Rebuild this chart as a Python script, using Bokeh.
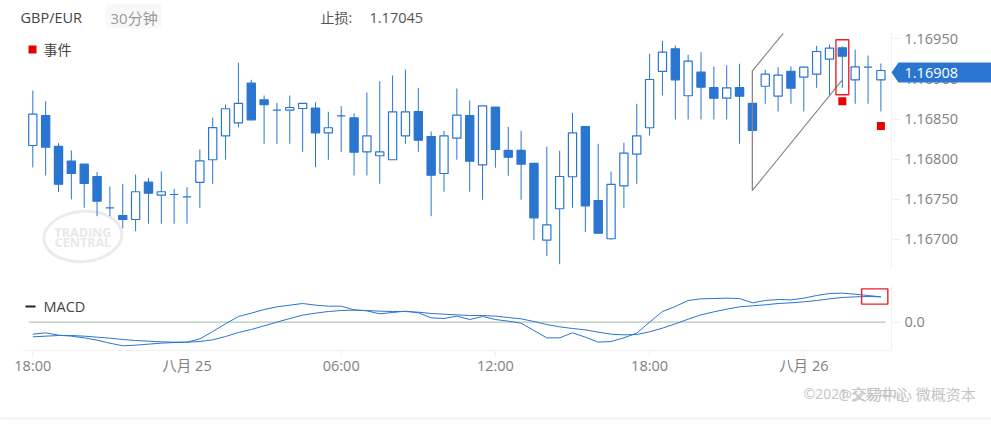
from bokeh.embed import file_html
from bokeh.layouts import column
from bokeh.models import (BoxAnnotation, FixedTicker, Label, NumeralTickFormatter,
                          PolyAnnotation, Range1d)
from bokeh.plotting import figure
from bokeh.resources import INLINE

# 30 minute candles
opens = [1.168172, 1.168546, 1.168160, 1.167976, 1.167939, 1.167785, 1.167393, 1.167299, 1.167249, 1.167714,
         1.167552, 1.167561, 1.167530, 1.167711, 1.167994, 1.168293, 1.168455, 1.168949, 1.168742, 1.168612,
         1.168612, 1.168633, 1.168637, 1.168330, 1.168542, 1.168517, 1.168093, 1.168044, 1.167994, 1.168293,
         1.168596, 1.168284, 1.167823, 1.168263, 1.168546, 1.167931, 1.168650, 1.168110, 1.168110, 1.167948,
         1.166991, 1.167383, 1.167782, 1.168409, 1.167486, 1.167009, 1.167669, 1.168064, 1.168393, 1.169095,
         1.169378, 1.168792, 1.169086, 1.168895, 1.168762, 1.168895, 1.168696, 1.168911, 1.168787, 1.169098,
         1.169024, 1.169061, 1.169248, 1.169390, 1.168991, 1.169148, 1.168991]
highs = [1.168858, 1.168724, 1.168201, 1.168110, 1.167939, 1.167844, 1.167661, 1.167694, 1.167810, 1.167769,
         1.167848, 1.167632, 1.167652, 1.168122, 1.168521, 1.168683, 1.169203, 1.168991, 1.168795, 1.168704,
         1.168795, 1.168696, 1.168712, 1.168592, 1.168662, 1.168575, 1.168833, 1.168974, 1.169045, 1.169120,
         1.168891, 1.168347, 1.168355, 1.168883, 1.168733, 1.168667, 1.168650, 1.168405, 1.168355, 1.167948,
         1.168156, 1.168106, 1.168580, 1.168409, 1.168193, 1.167848, 1.168206, 1.168692, 1.169315, 1.169477,
         1.169419, 1.169303, 1.169335, 1.169157, 1.169173, 1.169191, 1.169103, 1.169116, 1.169148, 1.169157,
         1.169157, 1.169415, 1.169431, 1.169406, 1.169365, 1.169294, 1.169194]
lows = [1.167898, 1.167798, 1.167590, 1.167499, 1.167395, 1.167290, 1.167290, 1.167137, 1.167103, 1.167196,
        1.167196, 1.167196, 1.167196, 1.167395, 1.167694, 1.167994, 1.168396, 1.168492, 1.168193, 1.168193,
        1.168193, 1.168093, 1.167901, 1.167994, 1.168093, 1.167798, 1.167798, 1.167694, 1.167994, 1.168193,
        1.168093, 1.167290, 1.167595, 1.167994, 1.167595, 1.167495, 1.167894, 1.167794, 1.167495, 1.166991,
        1.166792, 1.166692, 1.167395, 1.167091, 1.167078, 1.166996, 1.167395, 1.167694, 1.168297, 1.168795,
        1.168496, 1.168496, 1.168496, 1.168496, 1.168496, 1.168193, 1.167611, 1.168692, 1.168596, 1.168692,
        1.168596, 1.168891, 1.168795, 1.168891, 1.168692, 1.168692, 1.168596]
closes = [1.168562, 1.168151, 1.167689, 1.167823, 1.167698, 1.167477, 1.167393, 1.167249, 1.167595, 1.167577,
          1.167595, 1.167561, 1.167530, 1.167981, 1.168396, 1.168630, 1.168696, 1.168492, 1.168680, 1.168612,
          1.168646, 1.168696, 1.168330, 1.168393, 1.168542, 1.168088, 1.168293, 1.168093, 1.168592, 1.168592,
          1.168238, 1.167802, 1.168293, 1.168550, 1.167976, 1.168667, 1.168122, 1.168026, 1.167939, 1.167270,
          1.167183, 1.167785, 1.168330, 1.167420, 1.167078, 1.167686, 1.168076, 1.168293, 1.168995, 1.169335,
          1.168991, 1.169223, 1.168899, 1.168762, 1.168891, 1.168787, 1.168359, 1.169061, 1.169049, 1.168886,
          1.169148, 1.169344, 1.169385, 1.169285, 1.169153, 1.169148, 1.169107]

# MACD panel, two lines
macd = [-36, -32, -39, -42, -47, -54, -63, -71, -69, -66, -63, -61, -60, -50, -28, -5, 17, 27, 38, 46,
        51, 56, 51, 48, 48, 37, 34, 25, 29, 33, 28, 13, 11, 18, 8, 17, 8, 3, -3, -25,
        -47, -47, -32, -45, -60, -58, -47, -33, 0, 32, 47, 65, 70, 71, 72, 71, 58, 65, 68, 67,
        72, 80, 86, 87, 84, 80, 76]
signal = [-44, -42, -40, -40, -42, -45, -48, -52, -55, -57, -59, -60, -60, -58, -53, -43, -31, -22, -11, 0,
          11, 21, 27, 32, 35, 36, 35, 33, 32, 32, 30, 26, 24, 22, 20, 20, 18, 14, 10, 2,
          -7, -14, -19, -23, -30, -36, -38, -37, -29, -18, -5, 9, 22, 31, 39, 46, 49, 52, 56, 58,
          61, 65, 70, 74, 76, 77, 76]

# trend pattern and event markers
pattern_x = [58.4, 56, 56, 63]
pattern_y = [1.16957, 1.169103, 1.167611, 1.168991]
event_x = [63, 66]
event_y = [1.168723, 1.168415]
highlight = (63, 1.16949, 1.168804)
macd_box = (64.5, 66.54, 100, 54)

price_ticks = [1.167, 1.1675, 1.168, 1.1685, 1.169, 1.1695]
time_ticks = [0, 12, 24, 36, 48, 60]
time_labels = ["18:00", "八月 25", "06:00", "12:00", "18:00", "八月 26"]
last_price = 1.16908

BLUE = "#2a75d0"
GREY = "#808080"
FAINT = "#f2f2f2"
FONT = "Open Sans, Noto Sans CJK SC"
idx = list(range(len(opens)))
H1 = 283
H2 = 141
# frames fill the canvas, annotations outside a frame get clipped
x_full = (-2.514, 74.607)
x_axis_at = 66.82
x_bounds = (-0.8, x_axis_at)


def text(fig, x, y, txt, color="#444444", size="14px"):
    fig.add_layout(Label(x=x, y=y, text=txt, x_units="canvas", y_units="canvas",
                         text_color=color, text_font=FONT, text_font_size=size,
                         text_baseline="middle"))


def box(fig, left, right, top, bottom, color, radius=0):
    fig.add_layout(BoxAnnotation(left=left, right=right, top=top, bottom=bottom,
                                 left_units="canvas", right_units="canvas",
                                 top_units="canvas", bottom_units="canvas",
                                 fill_color=color, fill_alpha=1, line_color=None, border_radius=radius))


def style_axis(axis, tick, standoff):
    axis.axis_line_color = FAINT
    axis.major_tick_line_color = FAINT
    axis.major_tick_in = 0
    axis.major_tick_out = tick
    axis.minor_tick_line_color = None
    axis.major_label_text_color = GREY
    axis.major_label_text_font = FONT
    axis.major_label_text_font_size = "14.5px"
    axis.major_label_standoff = standoff


p = figure(width=991, height=H1, output_backend="svg", toolbar_location=None,
           x_range=Range1d(*x_full), y_range=Range1d(1.166451, 1.16998),
           x_axis_location=None, y_axis_location="right",
           min_border_left=0, min_border_right=0, min_border_top=0, min_border_bottom=0)
p.grid.visible = False
p.outline_line_color = None

yaxis = p.yaxis[0]
yaxis.fixed_location = x_axis_at
yaxis.bounds = (1.166622, 1.169577)
yaxis.ticker = FixedTicker(ticks=price_ticks)
yaxis.formatter = NumeralTickFormatter(format="0.00000")
style_axis(yaxis, 9, 4)

# Trading Central watermark
p.ellipse(x=[3.9], y=[1.167037], width=78, height=50, width_units="screen", height_units="screen",
          fill_color=None, line_color="#ebebeb", line_width=3, angle=0.08, level="underlay")
p.add_layout(Label(x=3.9, y=1.167091, text="TRADING", text_align="center", text_baseline="middle",
                   text_color="#e8e8e8", text_font="Open Sans", text_font_size="12.5px", text_font_style="bold"))
p.add_layout(Label(x=3.9, y=1.166966, text="CENTRAL", text_align="center", text_baseline="middle",
                   text_color="#e8e8e8", text_font="Open Sans", text_font_size="12.5px", text_font_style="bold"))

p.segment(idx, highs, idx, lows, line_color=BLUE, line_width=1)
p.vbar(x=idx, width=0.64, bottom=opens, top=closes, line_color=BLUE, line_width=1.2,
       fill_color=["#ffffff" if c >= o else BLUE for o, c in zip(opens, closes)])

p.line(pattern_x, pattern_y, line_color="#888888", line_width=1.2)
p.scatter(event_x, event_y, marker="square", size=8, fill_color="#e60000", line_color=None)
p.quad(left=[highlight[0] - 0.5], right=[highlight[0] + 0.5], top=[highlight[1]], bottom=[highlight[2]],
       fill_color=None, line_color="#e8222c", line_width=1.4)

# header and legend
box(p, 105, 161, 3, 28, "#f8f8f8", radius=4)
text(p, 20, 17, "GBP/EUR", size="14.5px")
text(p, 110, 17, "30分钟", color="#999999", size="15px")
text(p, 320, 17, "止损:", color="#555555")
text(p, 369, 17, "1.17045", color="#555555", size="14.5px")
box(p, 28, 36, 45, 53, "#e60000")
text(p, 43, 49, "事件")

# last price tag
tag_y = 72
p.add_layout(PolyAnnotation(xs=[891, 898, 991, 991, 898],
                            ys=[tag_y, tag_y - 10, tag_y - 10, tag_y + 10, tag_y + 10],
                            xs_units="canvas", ys_units="canvas", fill_color=BLUE, fill_alpha=1, line_color=None))
text(p, 904, tag_y, "%.5f" % last_price, color="#ffffff", size="14.5px")

m = figure(width=991, height=H2, output_backend="svg", toolbar_location=None,
           x_range=Range1d(*x_full), y_range=Range1d(-307, 116),
           y_axis_location="right",
           min_border_left=0, min_border_right=0, min_border_top=0, min_border_bottom=0)
m.grid.visible = False
m.outline_line_color = None

m.line([-0.31, 66.36], [0, 0], line_color="#b4c8b0", line_width=1.2)
m.line(idx, macd, line_color=BLUE, line_width=1)
m.line(idx, signal, line_color=BLUE, line_width=1)
m.quad(left=[macd_box[0]], right=[macd_box[1]], top=[macd_box[2]], bottom=[macd_box[3]],
       fill_color=None, line_color="#e8222c", line_width=1.4)

maxis = m.xaxis[0]
maxis.fixed_location = -86
maxis.bounds = x_bounds
maxis.ticker = FixedTicker(ticks=time_ticks)
maxis.major_label_overrides = dict(zip(time_ticks, time_labels))
style_axis(maxis, 7, -2)

raxis = m.yaxis[0]
raxis.fixed_location = x_axis_at
raxis.bounds = (-86, 116)
raxis.ticker = FixedTicker(ticks=[0])
raxis.major_label_overrides = {0: "0.0"}
style_axis(raxis, 9, 4)

# MACD legend, page watermark, bottom rule
box(m, 25, 35, 22, 24, "#222222")
text(m, 43, 23, "MACD", size="14.5px")
text(m, 803, 110, "©2021 交易中心", color="#c4c4c4")
text(m, 838, 110, "@交易中心 微概资本", color="#c4c4c4", size="15px")
box(m, 0, 991, 134, 136, FAINT)

open("out.html", "w").write(file_html(column(p, m, spacing=0), INLINE))
